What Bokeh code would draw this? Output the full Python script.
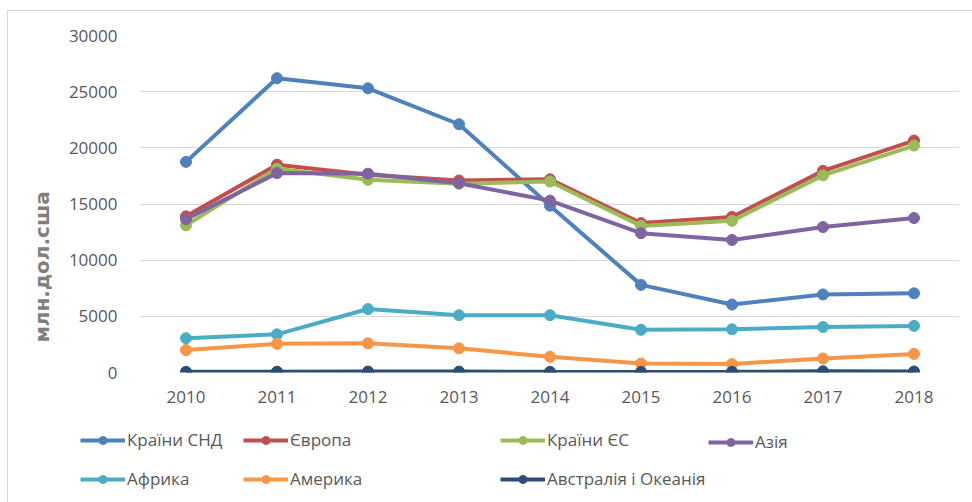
from bokeh.plotting import figure
from bokeh.models import (Legend, LegendItem, Range1d, SingleIntervalTicker, NumeralTickFormatter,
                          Title, Plot, Line, Scatter, ColumnDataSource)
from bokeh.layouts import column, row
from bokeh.embed import file_html
from bokeh.resources import INLINE

years = ["2010", "2011", "2012", "2013", "2014", "2015", "2016", "2017", "2018"]

cis = [18750, 26200, 25300, 22100, 14850, 7800, 6050, 6950, 7050]
europe = [13900, 18500, 17600, 17100, 17200, 13300, 13850, 17950, 20650]
eu = [13100, 18150, 17150, 16800, 17000, 13050, 13500, 17550, 20200]
asia = [13650, 17750, 17700, 16850, 15300, 12400, 11800, 12950, 13750]
africa = [3050, 3400, 5650, 5100, 5100, 3800, 3850, 4050, 4150]
america = [2000, 2550, 2600, 2150, 1400, 800, 750, 1250, 1650]
australia = [60, 70, 90, 80, 60, 50, 60, 110, 90]

names = ["Країни СНД", "Європа", "Країни ЄС", "Азія", "Африка", "Америка", "Австралія і Океанія"]
series = [cis, europe, eu, asia, africa, america, australia]
colors = ["#4F81BD", "#C0504D", "#9BBB59", "#8064A2", "#4BACC6", "#F79646", "#2C4D75"]
y_label = "млн.дол.сша"

W = 964
H1, H2 = 400, 91
p = figure(width=W, height=H1, x_range=years, y_range=Range1d(0, 30000),
           output_backend="svg", toolbar_location=None,
           min_border_left=132, min_border_right=13, min_border_top=24, min_border_bottom=39)
p.outline_line_color = None
p.background_fill_color = "white"

p.yaxis.ticker = SingleIntervalTicker(interval=5000)
p.yaxis.formatter = NumeralTickFormatter(format="0")
for ax in (p.xaxis[0], p.yaxis[0]):
    ax.axis_line_color = None
    ax.major_tick_line_color = None
    ax.minor_tick_line_color = None
    ax.major_tick_out = 0
    ax.major_tick_in = 0
    ax.major_label_text_font = "Open Sans"
    ax.major_label_text_font_size = "17px"
    ax.major_label_text_color = "#595959"
p.xaxis.major_label_standoff = 18
p.yaxis.major_label_standoff = 19

ttl = Title(text=y_label, align="left", offset=30, standoff=24,
            text_font="DejaVu Sans", text_font_style="bold", text_font_size="20px",
            text_color="#7f7f7f")
p.add_layout(ttl, "left")

p.xgrid.grid_line_color = None
p.ygrid.grid_line_color = "#d9d9d9"
p.ygrid.grid_line_width = 1

for name, vals, c in zip(names, series, colors):
    p.line(years, vals, line_color=c, line_width=4)
    p.scatter(years, vals, size=11, fill_color=c, line_color=c, marker="circle")

# legend panel (a plain Plot without axes)
q = Plot(width=W, height=H2, x_range=Range1d(0, 1), y_range=Range1d(0, 1),
         output_backend="svg", toolbar_location=None,
         min_border_left=0, min_border_right=0, min_border_top=0, min_border_bottom=0)
q.outline_line_color = None

# swatch sources lie outside the visible range, only the legend shows them
swatch = ColumnDataSource(dict(x=[-5.0], y=[-5.0]))
items = []
for name, c in zip(names, colors):
    l = q.add_glyph(swatch, Line(x="x", y="y", line_color=c, line_width=4))
    s = q.add_glyph(swatch, Scatter(x="x", y="y", size=10, fill_color=c, line_color=c, marker="circle"))
    items.append(LegendItem(label=name, renderers=[l, s]))

def mk_legend(its, x, y):
    lg = Legend(items=its, location=(x, y), orientation="vertical",
                padding=0, margin=0, spacing=16, glyph_width=45, glyph_height=20,
                label_height=20, label_standoff=2,
                label_text_font="Open Sans", label_text_font_size="17px",
                label_text_color="#595959", background_fill_alpha=0,
                border_line_color=None)
    q.add_layout(lg, "center")

mk_legend([items[0], items[4]], 72, 12)
mk_legend([items[1], items[5]], 235, 12)
mk_legend([items[2], items[6]], 492, 12)
mk_legend([items[3]], 700, 49)

lay = column(p, row(q, spacing=0), spacing=0)
lay.styles = {"border": "1px solid #d9d9d9", "margin-left": "7px", "margin-top": "10px"}

open("out.html", "w").write(file_html(lay, INLINE))
